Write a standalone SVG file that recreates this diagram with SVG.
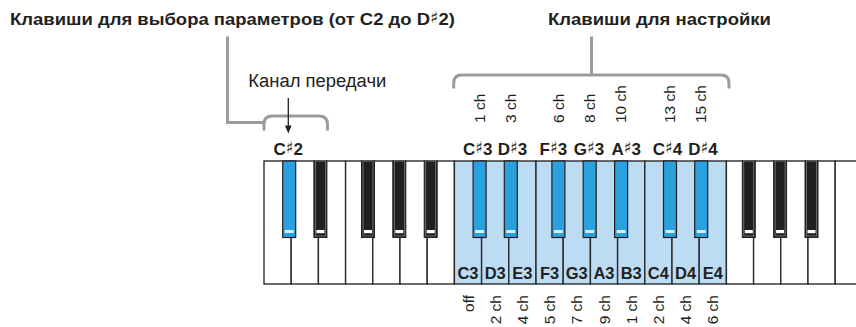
<svg xmlns="http://www.w3.org/2000/svg" width="856" height="327" viewBox="0 0 856 327">
<style>
  text { font-family: "Liberation Sans", Arial, sans-serif; fill: #231f20; }
  .title { font-size: 17px; font-weight: bold; }
  .note { font-size: 18px; }
  .kl { font-size: 16.5px; font-weight: bold; text-anchor: middle; }
  .bl { font-size: 17px; font-weight: bold; text-anchor: middle; }
  .sh { font-family: "DejaVu Sans", sans-serif; font-size: 16px; font-weight: normal; }
  .ch { font-size: 15.5px; }
  .chb { font-size: 15.5px; text-anchor: end; }
  .wk { fill: #ffffff; stroke: #2b2b2b; stroke-width: 1.4; }
  .wk.on { fill: #bcdcf4; }
  .bk { fill: #231f20; stroke: #231f20; stroke-width: 1; }
  .bk-in { fill: none; stroke: #8c8c8c; stroke-width: 0.7; }
  .bk-st { fill: #ffffff; }
  .bkb { fill: #2aa1dd; stroke: #231f20; stroke-width: 1.2; }
  .bkb-st { fill: #d6edf9; }
  .br { fill: none; stroke: #9b9b9b; stroke-width: 3; }
</style>

<g id="title-params">
  <text class="title" x="10" y="25" textLength="445" lengthAdjust="spacingAndGlyphs">Клавиши для выбора параметров (от C2 до D<tspan class="sh" dy="-2">♯</tspan><tspan dy="2">2)</tspan></text>
</g>
<g id="title-settings">
  <text class="title" x="548" y="25" textLength="223" lengthAdjust="spacingAndGlyphs">Клавиши для настройки</text>
</g>
<g id="note-channel">
  <text class="note" x="248.3" y="86.7" textLength="138" lengthAdjust="spacingAndGlyphs">Канал передачи</text>
</g>

<g id="connectors">
  <path class="br" d="M227.5,36.5 V122.5 H264"/>
  <path class="br" d="M264,130.5 V124 Q264,116 272,116 H319 Q327.5,116 327.5,124 V130.5"/>
  <path class="br" d="M591.5,36.5 V75"/>
  <path class="br" d="M453.7,88.5 V83 Q453.7,75 461.7,75 H721 Q729,75 729,83 V88.5"/>
  <line x1="288.3" y1="98" x2="288.3" y2="127" stroke="#231f20" stroke-width="1.3"/>
  <polygon points="285,125.5 291.6,125.5 288.3,133.5" fill="#231f20"/>
</g>

<g id="keyboard">
  <g id="white-keys">
    <rect class="wk" x="264" y="161" width="27.2" height="123"/>
    <rect class="wk" x="291.2" y="161" width="27.2" height="123"/>
    <rect class="wk" x="318.4" y="161" width="27.2" height="123"/>
    <rect class="wk" x="345.6" y="161" width="27.2" height="123"/>
    <rect class="wk" x="372.8" y="161" width="27.2" height="123"/>
    <rect class="wk" x="400" y="161" width="27.2" height="123"/>
    <rect class="wk" x="427.2" y="161" width="27.2" height="123"/>
    <rect class="wk on" x="454.4" y="161" width="27.2" height="123"/>
    <rect class="wk on" x="481.6" y="161" width="27.2" height="123"/>
    <rect class="wk on" x="508.8" y="161" width="27.2" height="123"/>
    <rect class="wk on" x="536" y="161" width="27.2" height="123"/>
    <rect class="wk on" x="563.2" y="161" width="27.2" height="123"/>
    <rect class="wk on" x="590.4" y="161" width="27.2" height="123"/>
    <rect class="wk on" x="617.6" y="161" width="27.2" height="123"/>
    <rect class="wk on" x="644.8" y="161" width="27.2" height="123"/>
    <rect class="wk on" x="672" y="161" width="27.2" height="123"/>
    <rect class="wk on" x="699.2" y="161" width="27.2" height="123"/>
    <rect class="wk" x="726.4" y="161" width="27.2" height="123"/>
    <rect class="wk" x="753.6" y="161" width="27.2" height="123"/>
    <rect class="wk" x="780.8" y="161" width="27.2" height="123"/>
    <rect class="wk" x="808" y="161" width="27.2" height="123"/>
    <rect class="wk" x="835.2" y="161" width="27.2" height="123"/>
  </g>
  <g id="black-keys">
    <g id="key-Cs2"><rect class="bkb" x="282.7" y="161" width="13" height="76.5"/><rect class="bkb-st" x="284.7" y="230" width="9" height="3"/></g>
    <g id="key-Ds2"><rect class="bk" x="313.9" y="161" width="13" height="76.5"/><rect class="bk-in" x="315.4" y="161" width="10" height="75"/><rect class="bk-st" x="316.4" y="230" width="8" height="3.2"/></g>
    <g id="key-Fs2"><rect class="bk" x="361.5" y="161" width="13" height="76.5"/><rect class="bk-in" x="363" y="161" width="10" height="75"/><rect class="bk-st" x="364" y="230" width="8" height="3.2"/></g>
    <g id="key-Gs2"><rect class="bk" x="392.8" y="161" width="13" height="76.5"/><rect class="bk-in" x="394.3" y="161" width="10" height="75"/><rect class="bk-st" x="395.3" y="230" width="8" height="3.2"/></g>
    <g id="key-As2"><rect class="bk" x="424.2" y="161" width="13" height="76.5"/><rect class="bk-in" x="425.7" y="161" width="10" height="75"/><rect class="bk-st" x="426.7" y="230" width="8" height="3.2"/></g>
    <g id="key-Cs3"><rect class="bkb" x="473.1" y="161" width="13" height="76.5"/><rect class="bkb-st" x="475.1" y="230" width="9" height="3"/></g>
    <g id="key-Ds3"><rect class="bkb" x="504.3" y="161" width="13" height="76.5"/><rect class="bkb-st" x="506.3" y="230" width="9" height="3"/></g>
    <g id="key-Fs3"><rect class="bkb" x="551.9" y="161" width="13" height="76.5"/><rect class="bkb-st" x="553.9" y="230" width="9" height="3"/></g>
    <g id="key-Gs3"><rect class="bkb" x="583.2" y="161" width="13" height="76.5"/><rect class="bkb-st" x="585.2" y="230" width="9" height="3"/></g>
    <g id="key-As3"><rect class="bkb" x="614.6" y="161" width="13" height="76.5"/><rect class="bkb-st" x="616.6" y="230" width="9" height="3"/></g>
    <g id="key-Cs4"><rect class="bkb" x="663.5" y="161" width="13" height="76.5"/><rect class="bkb-st" x="665.5" y="230" width="9" height="3"/></g>
    <g id="key-Ds4"><rect class="bkb" x="694.7" y="161" width="13" height="76.5"/><rect class="bkb-st" x="696.7" y="230" width="9" height="3"/></g>
    <g id="key-Fs4"><rect class="bk" x="742.3" y="161" width="13" height="76.5"/><rect class="bk-in" x="743.8" y="161" width="10" height="75"/><rect class="bk-st" x="744.8" y="230" width="8" height="3.2"/></g>
    <g id="key-Gs4"><rect class="bk" x="773.6" y="161" width="13" height="76.5"/><rect class="bk-in" x="775.1" y="161" width="10" height="75"/><rect class="bk-st" x="776.1" y="230" width="8" height="3.2"/></g>
    <g id="key-As4"><rect class="bk" x="805" y="161" width="13" height="76.5"/><rect class="bk-in" x="806.5" y="161" width="10" height="75"/><rect class="bk-st" x="807.5" y="230" width="8" height="3.2"/></g>
  </g>
</g>

<g id="white-key-labels">
  <text class="kl" x="468" y="279">C3</text>
  <text class="kl" x="495.2" y="279">D3</text>
  <text class="kl" x="522.4" y="279">E3</text>
  <text class="kl" x="549.6" y="279">F3</text>
  <text class="kl" x="576.8" y="279">G3</text>
  <text class="kl" x="604" y="279">A3</text>
  <text class="kl" x="631.2" y="279">B3</text>
  <text class="kl" x="658.4" y="279">C4</text>
  <text class="kl" x="685.6" y="279">D4</text>
  <text class="kl" x="712.8" y="279">E4</text>
</g>

<g id="black-key-labels">
  <text class="bl" x="288.3" y="155">C<tspan class="sh" dy="-2">♯</tspan><tspan dy="2">2</tspan></text>
  <text class="bl" x="477.7" y="155">C<tspan class="sh" dy="-2">♯</tspan><tspan dy="2">3</tspan></text>
  <text class="bl" x="512.5" y="155">D<tspan class="sh" dy="-2">♯</tspan><tspan dy="2">3</tspan></text>
  <text class="bl" x="553.3" y="155">F<tspan class="sh" dy="-2">♯</tspan><tspan dy="2">3</tspan></text>
  <text class="bl" x="589" y="155">G<tspan class="sh" dy="-2">♯</tspan><tspan dy="2">3</tspan></text>
  <text class="bl" x="626.3" y="155">A<tspan class="sh" dy="-2">♯</tspan><tspan dy="2">3</tspan></text>
  <text class="bl" x="667.5" y="155">C<tspan class="sh" dy="-2">♯</tspan><tspan dy="2">4</tspan></text>
  <text class="bl" x="703" y="155">D<tspan class="sh" dy="-2">♯</tspan><tspan dy="2">4</tspan></text>
</g>

<g id="top-channels">
  <text class="ch" transform="translate(484.6,123) rotate(-90)">1 ch</text>
  <text class="ch" transform="translate(516,123) rotate(-90)">3 ch</text>
  <text class="ch" transform="translate(563.6,123) rotate(-90)">6 ch</text>
  <text class="ch" transform="translate(595,123) rotate(-90)">8 ch</text>
  <text class="ch" transform="translate(626.2,123) rotate(-90)">10 ch</text>
  <text class="ch" transform="translate(675,123) rotate(-90)">13 ch</text>
  <text class="ch" transform="translate(706.2,123) rotate(-90)">15 ch</text>
</g>

<g id="bottom-channels">
  <text class="chb" transform="translate(473.6,295) rotate(-90)">off</text>
  <text class="chb" transform="translate(500.8,295) rotate(-90)">2 ch</text>
  <text class="chb" transform="translate(528,295) rotate(-90)">4 ch</text>
  <text class="chb" transform="translate(555.2,295) rotate(-90)">5 ch</text>
  <text class="chb" transform="translate(582.4,295) rotate(-90)">7 ch</text>
  <text class="chb" transform="translate(609.6,295) rotate(-90)">9 ch</text>
  <text class="chb" transform="translate(636.8,295) rotate(-90)">1 ch</text>
  <text class="chb" transform="translate(664,295) rotate(-90)">2 ch</text>
  <text class="chb" transform="translate(691.2,295) rotate(-90)">4 ch</text>
  <text class="chb" transform="translate(718.4,295) rotate(-90)">6 ch</text>
</g>
</svg>
